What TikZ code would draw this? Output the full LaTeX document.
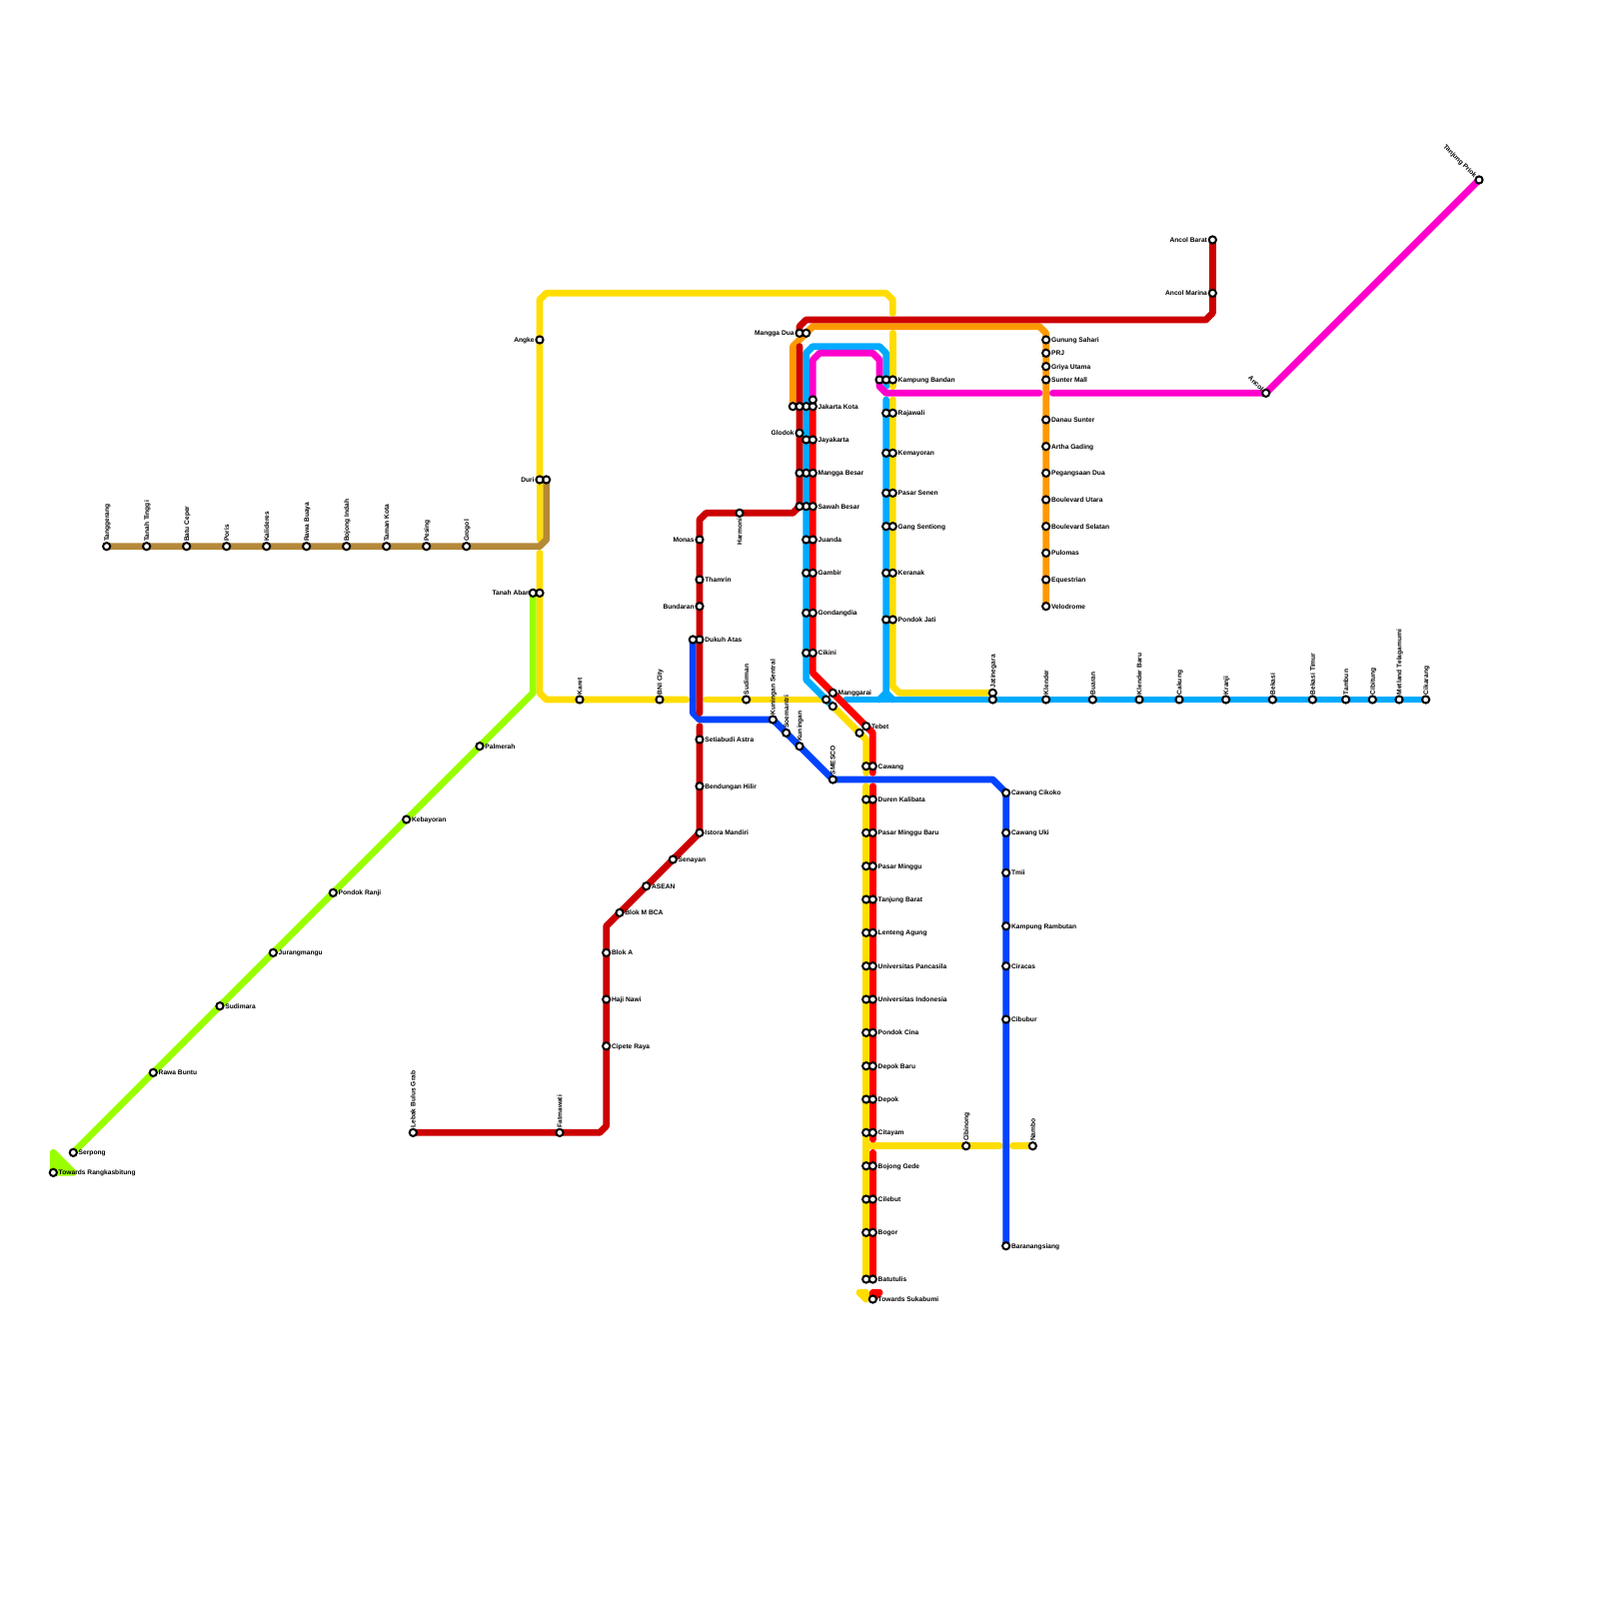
\documentclass[tikz,border=0pt]{standalone}
\usepackage{fontspec}
\setmainfont{Liberation Sans}
\usetikzlibrary{backgrounds}
\definecolor{metroYellow}{HTML}{FFDD00}
\definecolor{metroSky}{HTML}{00AAFF}
\definecolor{metroBlue}{HTML}{0044FF}
\definecolor{metroBrown}{HTML}{B5893A}
\definecolor{metroGreen}{HTML}{99FF00}
\definecolor{metroOrange}{HTML}{FF9900}
\definecolor{metroMaroon}{HTML}{CC0000}
\definecolor{metroMagenta}{HTML}{FF00CC}
\definecolor{metroRed}{HTML}{FF0000}

\begin{document}
\begin{tikzpicture}[
    x=3.3333pt, y=-3.3333pt,
    % Node styles
    station/.style={circle, draw=black, fill=white, line width=1pt, minimum size=3.6pt, inner sep=0pt},
    nameBase/.style={inner sep=0pt, text height=2.4pt, text depth=0pt, font=\fontsize{3.33}{4}\selectfont\bfseries},
    nameE/.style={nameBase, anchor=west},
    nameW/.style={nameBase, anchor=east},
    nameN/.style={nameBase, anchor=west, rotate=90},
    nameS/.style={nameBase, anchor=east, rotate=90},
    nameNW/.style={nameBase, anchor=east, rotate=-45},
    % Lines
    route/.style={line width=3.4pt, line cap=round, line join=round},
    wedge/.style={line width=3.4pt, line join=round}
]
    \useasboundingbox (0,0) rectangle (240,240);

    % =========================================================================
    % 1. WEST: BROWN AND GREEN LINES
    % =========================================================================
    \foreach \x/\lab in {16/Tanggerang, 22/Tanah Tinggi, 28/Batu Ceper, 34/Poris, 40/Kalideres, 46/Rawa Buaya, 52/Bojong Indah, 58/Taman Kota, 64/Pesing, 70/Grogol} {
        \node[station] (brown\x) at (\x, 82) {};
        \node[nameN] (nbrown\x) at (\x, 81.35) {\lab};
    }
    \node[station] (duriB) at (82, 72) {};
    \node[station] (duriY) at (81, 72) {};
    \node[nameW] (nduri) at (80.25, 72) {Duri};
    \node[station] (angke) at (81, 51) {};
    \node[nameW] (nangke) at (80.25, 51) {Angke};

    % the green station sits on top of the end of this name
    \node[nameW] (nabang) at (80.2, 89) {Tanah Abang};
    \node[station] (abangG) at (80, 89) {};
    \node[station] (abangY) at (81, 89) {};
    \foreach \x/\y/\lab in {72/112/Palmerah, 61/123/Kebayoran, 50/134/Pondok Ranji, 41/143/Jurangmangu, 33/151/Sudimara, 23/161/Rawa Buntu, 11/173/Serpong, 8/176/Towards Rangkasbitung} {
        \node[station] (green\x) at (\x, \y) {};
        \node[nameE] (ngreen\x) at (\x+0.75, \y) {\lab};
    }

    % =========================================================================
    % 2. CENTER: MAROON LINE AND THE YELLOW ROW
    % =========================================================================
    \node[station] (bulus) at (62, 170) {};
    \node[nameN] (nbulus) at (62, 169.35) {Lebak Bulus Grab};
    \node[station] (fatma) at (84, 170) {};
    \node[nameN] (nfatma) at (84, 169.35) {Fatmawati};
    \foreach \x/\y/\lab in {91/157/Cipete Raya, 91/150/Haji Nawi, 91/143/Blok A, 93/137/Blok M BCA, 97/133/ASEAN, 101/129/Senayan, 105/125/Istora Mandiri, 105/118/Bendungan Hilir, 105/111/Setiabudi Astra, 105/96/Dukuh Atas, 105/87/Thamrin} {
        \node[station] (maroon\y) at (\x, \y) {};
        \node[nameE] (nmaroon\y) at (\x+0.75, \y) {\lab};
    }
    \foreach \y/\lab in {91/Bundaran, 81/Monas} {
        \node[station] (maroon\y) at (105, \y) {};
        \node[nameW] (nmaroon\y) at (104.25, \y) {\lab};
    }
    \node[station] (dukuhB) at (104, 96) {};
    \node[station] (harmoni) at (111, 77) {};
    \node[nameS] (nharmoni) at (111, 77.75) {Harmoni};

    \foreach \x/\lab in {87/Karet, 99/BNI City, 112/Sudirman} {
        \node[station] (row\x) at (\x, 105) {};
        \node[nameN] (nrow\x) at (\x, 104.35) {\lab};
    }
    \foreach \x/\y/\lab in {116/108/Kuningan Sentral, 118/110/Soemantri, 120/112/Kuningan, 125/117/SMESCO} {
        \node[station] (blue\x) at (\x, \y) {};
        \node[nameN] (nblue\x) at (\x, \y-0.65) {\lab};
    }

    % =========================================================================
    % 3. CENTER: THE TWO LOOP COLUMNS
    % =========================================================================
    \foreach \y/\lab in {61/Jakarta Kota, 66/Jayakarta, 71/Mangga Besar, 76/Sawah Besar, 81/Juanda, 86/Gambir, 92/Gondangdia, 98/Cikini} {
        \node[station] (sky\y) at (121, \y) {};
        \node[station] (red\y) at (122, \y) {};
        \node[nameE] (nred\y) at (122.75, \y) {\lab};
    }
    \node[station] (kotaO) at (119, 61) {};
    \node[station] (kotaM) at (120, 61) {};
    \node[station] (kotaP) at (122, 60) {};
    \node[station] (besarM) at (120, 71) {};
    \node[station] (sawahM) at (120, 76) {};
    \node[station] (glodok) at (120, 65) {};
    \node[nameW] (nglodok) at (119.25, 65) {Glodok};
    \node[station] (duaM) at (120, 50) {};
    \node[station] (duaO) at (121, 50) {};
    \node[nameW] (ndua) at (119.25, 50) {Mangga Dua};

    \node[station] (bandanP) at (132, 57) {};
    \node[station] (bandanS) at (133, 57) {};
    \node[station] (bandanY) at (134, 57) {};
    \node[nameE] (nbandan) at (134.75, 57) {Kampung Bandan};
    \foreach \y/\lab in {62/Rajawali, 68/Kemayoran, 74/Pasar Senen, 79/Gang Sentiong, 86/Keranak, 93/Pondok Jati} {
        \node[station] (skyE\y) at (133, \y) {};
        \node[station] (yelE\y) at (134, \y) {};
        \node[nameE] (nyelE\y) at (134.75, \y) {\lab};
    }

    % --- Around Manggarai ---
    \node[station] (manggarai) at (125, 104) {};
    \node[nameE] (nmanggarai) at (125.75, 104) {Manggarai};
    \node[station] (manggaraiY) at (124, 105) {};
    \node[station] (manggaraiS) at (125, 106) {};
    \node[station] (tebet) at (130, 109) {};
    \node[nameE] (ntebet) at (130.75, 109) {Tebet};
    \node[station] (tebetY) at (129, 110) {};

    % =========================================================================
    % 4. SOUTH: TWIN COLUMN TO BOGOR
    % =========================================================================
    \foreach \y/\lab in {115/Cawang, 120/Duren Kalibata, 125/Pasar Minggu Baru, 130/Pasar Minggu, 135/Tanjung Barat, 140/Lenteng Agung, 145/Universitas Pancasila, 150/Universitas Indonesia, 155/Pondok Cina, 160/Depok Baru, 165/Depok, 170/Citayam, 175/Bojong Gede, 180/Cilebut, 185/Bogor, 192/Batutulis} {
        \node[station] (yelS\y) at (130, \y) {};
        \node[station] (redS\y) at (131, \y) {};
        \node[nameE] (nredS\y) at (131.75, \y) {\lab};
    }
    \node[nameE] (nsukabumi) at (131.75, 195) {Towards Sukabumi};
    \node[station] (sukabumi) at (131, 195) {};
    \node[station] (cibinong) at (145, 172) {};
    \node[nameN] (ncibinong) at (145, 171.35) {Cibinong};
    \node[station] (nambo) at (155, 172) {};
    \node[nameN] (nnambo) at (155, 171.35) {Nambo};

    \foreach \y/\lab in {119/Cawang Cikoko, 125/Cawang Uki, 131/Tmii, 139/Kampung Rambutan, 145/Ciracas, 153/Cibubur, 187/Baranangsiang} {
        \node[station] (blueS\y) at (151, \y) {};
        \node[nameE] (nblueS\y) at (151.75, \y) {\lab};
    }

    % =========================================================================
    % 5. EAST: SKY ROW, ORANGE COLUMN, MAGENTA
    % =========================================================================
    \node[station] (jatiY) at (149, 104) {};
    \node[nameN] (nsky149) at (149, 103.35) {Jatinegara};
    \node[station] (sky149) at (149, 105) {};
    \foreach \x/\lab in {157/Klender, 164/Buaran, 171/Klender Baru, 177/Cakung, 184/Kranji, 191/Bekasi, 197/Bekasi Timur, 202/Tambun, 206/Cibitung, 210/Metland Telagamurni, 214/Cikarang} {
        \node[station] (sky\x) at (\x, 105) {};
        \node[nameN] (nsky\x) at (\x, 104.35) {\lab};
    }
    \foreach \y/\lab in {51/Gunung Sahari, 53/PRJ, 55/Griya Utama, 57/Sunter Mall, 63/Danau Sunter, 67/Artha Gading, 71/Pegangsaan Dua, 75/Boulevard Utara, 79/Boulevard Selatan, 83/Pulomas, 87/Equestrian, 91/Velodrome} {
        \node[station] (orange\y) at (157, \y) {};
        \node[nameE] (norange\y) at (157.75, \y) {\lab};
    }
    \node[station] (marina) at (182, 44) {};
    \node[nameW] (nmarina) at (181.25, 44) {Ancol Marina};
    \node[station] (barat) at (182, 36) {};
    \node[nameW] (nbarat) at (181.25, 36) {Ancol Barat};
    \node[nameNW] (nancol) at (189.55, 58.55) {Ancol};
    \node[station] (ancol) at (190, 59) {};
    \node[nameNW] (npriok) at (221.55, 26.55) {Tanjung Priok};
    \node[station] (priok) at (222, 27) {};

    % =========================================================================
    % 6. THE LINES, UNDER THE STATIONS
    % =========================================================================
    \begin{scope}[on background layer]
        % --- Yellow ---
        \begin{scope}[route, draw=metroYellow]
            \draw (duriY.center) -- (angke.center) -- (81, 45) -- (82, 44) -- (133, 44) -- (134, 45) -- (134, 47);
            \draw (duriY.center) -- (81, 81);
            \draw (81, 83) -- (abangY.center) -- (81, 104) -- (82, 105) -- (103, 105);
            \draw (106, 105) -- (manggaraiY.center);
            \draw (manggaraiS.center) -- (130, 111) -- (130, 116);
            \draw (130, 118) -- (yelS192.center);
            \draw (130, 172) -- (150, 172);
            \draw (152, 172) -- (nambo.center);
            \draw (134, 50) -- (134, 58);
            \draw (134, 60) -- (134, 103) -- (135, 104) -- (jatiY.center);
        \end{scope}
        \draw[wedge, draw=metroYellow, fill=metroYellow] (129, 194) -- (130, 194) -- (130, 195) -- cycle;

        % --- Sky ---
        \begin{scope}[route, draw=metroSky]
            \draw (manggaraiS.center) -- (121, 102) -- (121, 53) -- (122, 52) -- (132, 52) -- (133, 53) -- (133, 58);
            \draw (133, 60) -- (133, 104) -- (132, 105);
            \draw (133, 104) -- (134, 105);
            \draw (127, 105) -- (sky214.center);
        \end{scope}

        % --- Blue ---
        \draw[route, draw=metroBlue] (dukuhB.center) -- (104, 107) -- (105, 108) -- (blue116.center) -- (blue125.center) -- (149, 117) -- (blueS119.center) -- (blueS187.center);

        % --- Brown ---
        \draw[route, draw=metroBrown] (brown16.center) -- (81, 82) -- (82, 81) -- (duriB.center);

        % --- Green ---
        \draw[route, draw=metroGreen] (abangG.center) -- (80, 104) -- (green11.center);
        \draw[wedge, draw=metroGreen, fill=metroGreen] (8, 173) -- (8, 176) -- (11, 176) -- cycle;

        % --- Orange ---
        \draw[route, draw=metroOrange] (kotaO.center) -- (119, 52) -- (122, 49) -- (156, 49) -- (157, 50) -- (orange91.center);

        % --- Maroon ---
        \begin{scope}[route, draw=metroMaroon]
            \draw (bulus.center) -- (90, 170) -- (91, 169) -- (91, 139) -- (maroon125.center) -- (105, 109);
            \draw (105, 107) -- (105, 78) -- (106, 77) -- (119, 77) -- (sawahM.center) -- (120, 52);
            \draw (duaM.center) -- (120, 49) -- (121, 48) -- (181, 48) -- (182, 47) -- (barat.center);
        \end{scope}

        % --- Magenta ---
        \begin{scope}[route, draw=metroMagenta]
            \draw (priok.center) -- (ancol.center) -- (158, 59);
            \draw (156, 59) -- (133, 59) -- (132, 58) -- (132, 54) -- (131, 53) -- (123, 53) -- (122, 54) -- (kotaP.center);
        \end{scope}

        % --- Red ---
        \begin{scope}[route, draw=metroRed]
            \draw (red61.center) -- (122, 101) -- (131, 110) -- (131, 116);
            \draw (131, 118) -- (131, 171);
            \draw (131, 173) -- (redS192.center);
        \end{scope}
        \draw[wedge, draw=metroRed, fill=metroRed] (131, 194) -- (132, 194) -- (131, 195) -- cycle;
    \end{scope}

\end{tikzpicture}
\end{document}
